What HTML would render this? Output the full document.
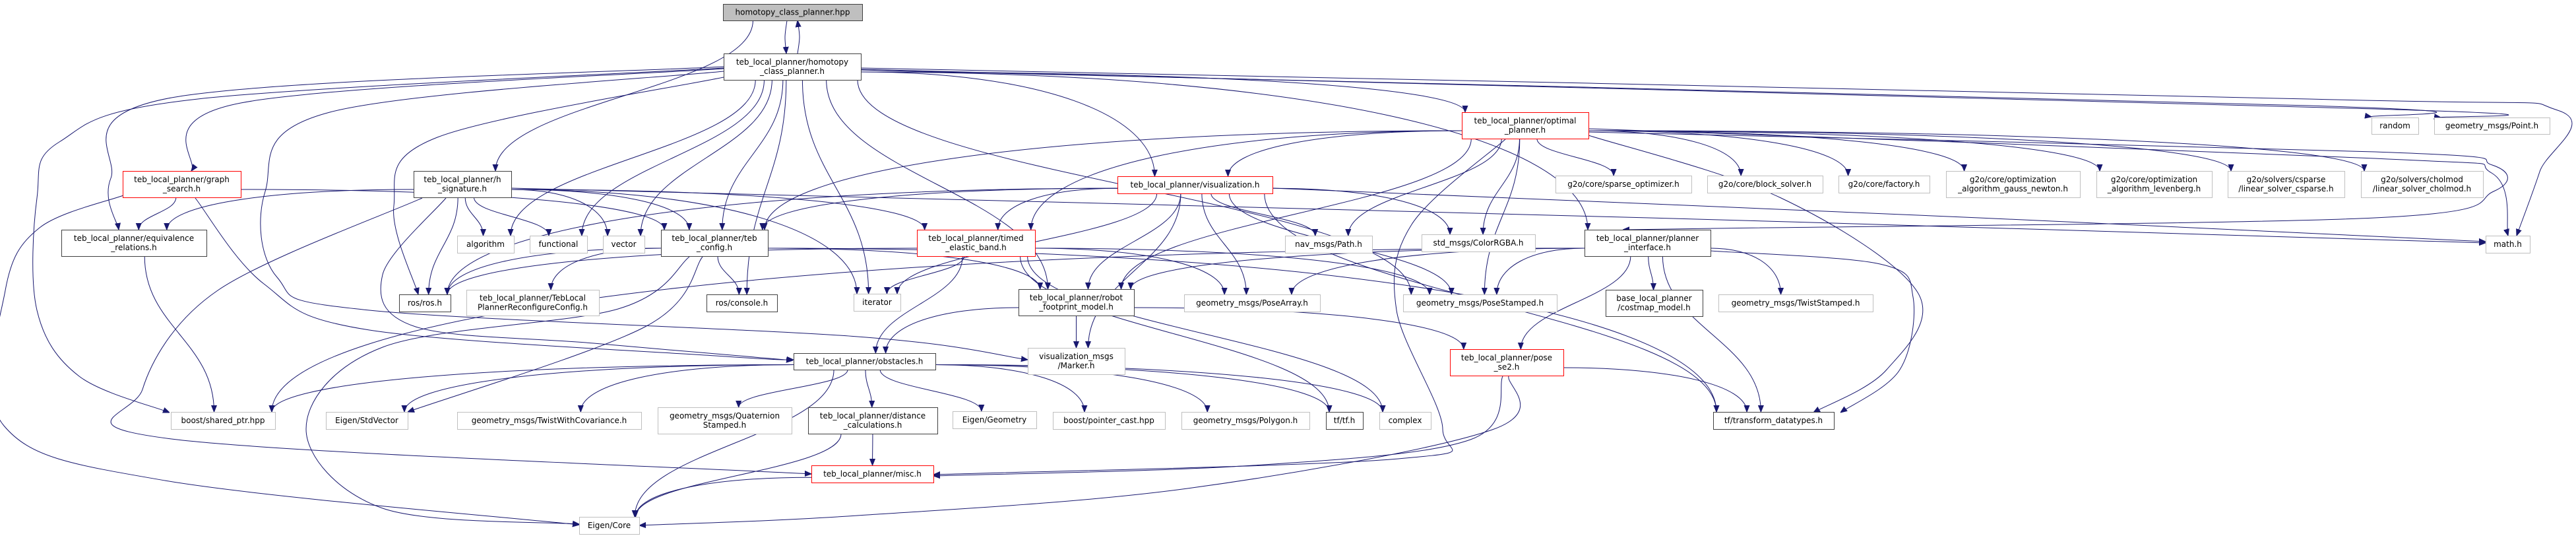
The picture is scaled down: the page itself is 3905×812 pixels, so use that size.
<!DOCTYPE html>
<html><head><meta charset="utf-8">
<style>
html,body{margin:0;padding:0;background:#fff;}
svg{display:block;}
text{font-family:"DejaVu Sans","Liberation Sans",sans-serif;font-size:12px;fill:#000;}
</style></head>
<body>
<svg id="g" width="3905" height="812" viewBox="0 0 3905 812" xmlns="http://www.w3.org/2000/svg">
<defs>
<marker id="ah" viewBox="0 0 10 10" refX="10" refY="5" markerWidth="10" markerHeight="10" markerUnits="userSpaceOnUse" orient="auto">
<path d="M0,1 L10,5 L0,9 z" fill="#191970" stroke="#191970"/>
</marker>
</defs>
<g id="edges" fill="none" stroke="#191970" stroke-width="1"></g>
<g id="nodes"></g>
</svg>
<script>
var N={
A:[1096,6,1307,31,'g',['homotopy_class_planner.hpp']],
B:[1097,81,1305,121,'k',['teb_local_planner/homotopy','_class_planner.h']],
GS:[186,259,365,299,'r',['teb_local_planner/graph','_search.h']],
HS:[627,259,775,299,'k',['teb_local_planner/h','_signature.h']],
ER:[93,348,313,388,'k',['teb_local_planner/equivalence','_relations.h']],
ALG:[693,357,779,383,'w',['algorithm']],
FUN:[803,357,890,383,'w',['functional']],
VEC:[914,357,977,383,'w',['vector']],
TC:[1002,348,1164,388,'k',['teb_local_planner/teb','_config.h']],
ROS:[605,446,683,472,'k',['ros/ros.h']],
TLRC:[707,439,908,478,'w',['teb_local_planner/TebLocal','PlannerReconfigureConfig.h']],
CON:[1071,446,1178,472,'k',['ros/console.h']],
OBS:[1203,535,1418,560,'k',['teb_local_planner/obstacles.h']],
BSP:[259,624,417,650,'w',['boost/shared_ptr.hpp']],
ESV:[494,624,618,650,'w',['Eigen/StdVector']],
TWC:[693,624,972,650,'w',['geometry_msgs/TwistWithCovariance.h']],
QS:[997,617,1200,657,'w',['geometry_msgs/Quaternion','Stamped.h']],
DC:[1225,617,1421,657,'k',['teb_local_planner/distance','_calculations.h']],
MISC:[1230,705,1415,731,'r',['teb_local_planner/misc.h']],
EC:[878,783,969,809,'w',['Eigen/Core']],
OP:[2216,170,2408,210,'r',['teb_local_planner/optimal','_planner.h']],
VIS:[1694,267,1929,293,'r',['teb_local_planner/visualization.h']],
SO:[2358,266,2564,292,'w',['g2o/core/sparse_optimizer.h']],
TEB:[1390,348,1569,388,'r',['teb_local_planner/timed','_elastic_band.h']],
NAV:[1948,357,2080,383,'w',['nav_msgs/Path.h']],
CRGBA:[2155,355,2327,381,'w',['std_msgs/ColorRGBA.h']],
PI:[2402,348,2593,388,'k',['teb_local_planner/planner','_interface.h']],
ITR:[1294,445,1365,471,'w',['iterator']],
RFM:[1544,438,1719,478,'k',['teb_local_planner/robot','_footprint_model.h']],
PA:[1795,446,2001,472,'w',['geometry_msgs/PoseArray.h']],
PS:[2127,446,2360,472,'w',['geometry_msgs/PoseStamped.h']],
CM:[2434,439,2581,479,'k',['base_local_planner','/costmap_model.h']],
VM:[1558,527,1705,567,'w',['visualization_msgs','/Marker.h']],
SE2:[2198,529,2370,569,'r',['teb_local_planner/pose','_se2.h']],
EG:[1444,623,1571,649,'w',['Eigen/Geometry']],
BPC:[1596,624,1766,650,'w',['boost/pointer_cast.hpp']],
POLY:[1791,624,1985,650,'w',['geometry_msgs/Polygon.h']],
TF:[2010,624,2066,650,'k',['tf/tf.h']],
CPX:[2091,624,2169,650,'w',['complex']],
TDT:[2597,624,2780,650,'k',['tf/transform_datatypes.h']],
BS:[2588,266,2763,292,'w',['g2o/core/block_solver.h']],
FAC:[2787,266,2925,292,'w',['g2o/core/factory.h']],
GN:[2950,259,3153,299,'w',['g2o/core/optimization','_algorithm_gauss_newton.h']],
LM:[3178,259,3353,299,'w',['g2o/core/optimization','_algorithm_levenberg.h']],
CS:[3377,259,3554,299,'w',['g2o/solvers/csparse','/linear_solver_csparse.h']],
CH:[3579,259,3764,299,'w',['g2o/solvers/cholmod','/linear_solver_cholmod.h']],
RND:[3595,178,3666,203,'w',['random']],
PT:[3690,178,3865,203,'w',['geometry_msgs/Point.h']],
MATH:[3768,357,3835,383,'w',['math.h']],
TW:[2605,446,2839,472,'w',['geometry_msgs/TwistStamped.h']]
};
var E=[
['A','HS'],
['B','ALG'],['B','FUN'],['B','VEC'],['B','TC'],['B','CON'],['B','ITR'],['B','RFM'],['B','VIS'],['B','OP'],['B','PI'],['B','PS'],
['GS','ER'],['GS','TC'],['ER','BSP'],
['HS','ER'],['HS','ALG'],['HS','FUN'],['HS','VEC'],['HS','TC'],['HS','ROS'],['HS','ITR'],['HS','TEB'],
['TC','ROS'],['TC','TLRC'],['TC','CON'],['TC','RFM'],['TC','TDT'],
['OBS','BSP'],['OBS','ESV'],['OBS','TWC'],['OBS','QS'],['OBS','DC'],['OBS','EC'],['OBS','EG'],['OBS','BPC'],['OBS','POLY'],['OBS','TF'],['OBS','CPX'],
['DC','MISC'],['DC','EC'],['MISC','EC'],
['SE2','TDT'],
['OP','VIS'],['OP','TEB'],['OP','RFM'],['OP','NAV'],['OP','PS'],['OP','SO'],['OP','BS'],['OP','FAC'],['OP','GN'],['OP','LM'],['OP','CS'],['OP','CH'],['OP','TC'],['OP','CRGBA'],
['VIS','TEB'],['VIS','TC'],['VIS','ITR'],['VIS','RFM'],['VIS','NAV'],['VIS','CRGBA'],['VIS','PA'],['VIS','PS'],['VIS','VM'],['VIS','TDT'],['VIS','ROS'],
['TEB','ITR'],['TEB','OBS'],['TEB','PA'],['TEB','PS'],['TEB','TF'],['TEB','CPX'],['TEB','ROS'],
['RFM','OBS'],['RFM','VM'],['RFM','SE2'],
['PI','RFM'],['PI','PA'],['PI','PS'],['PI','CM'],['PI','BSP'],['PI','TDT'],['PI','SE2'],['PI','TW']
];
var W=[
[[1193,31],[1190,56],[1192,81]],
[[1209,81],[1212,56],[1209,31]],
[[1097,103],[300,150],[90,215],[56,300],[56,470],[120,570],[257,625]],
[[187,296],[60,345],[8,440],[6,645],[250,728],[878,795]],
[[1097,101],[260,148],[168,270],[180,348]],
[[1097,104],[365,156],[290,259]],
[[1097,108],[500,170],[402,290],[420,420],[560,470],[1300,510],[1558,545]],
[[676,300],[580,416],[630,495],[900,520],[1202,546]],
[[640,300],[330,440],[216,590],[260,665],[1230,718]],
[[1097,117],[663,208],[597,312],[634,446]],
[[1045,389],[937,468],[580,526],[464,650],[580,770],[878,794]],
[[1065,389],[978,495],[618,624]],
[[296,300],[400,430],[560,500],[1100,540],[1203,545]],
[[1305,103],[3500,150],[3877,167],[3850,260],[3815,357]],
[[1305,106],[3500,160],[3595,177]],
[[1305,105],[3600,165],[3700,178]],
[[2408,195],[3600,240],[3777,262],[3802,357]],
[[2408,200],[3600,230],[3778,250],[3780,290],[3600,330],[2600,346],[2460,348]],
[[775,285],[2500,330],[3768,368]],
[[2408,205],[2700,300],[2907,443],[2860,560],[2749,625]],
[[2593,380],[2850,400],[2900,450],[2880,560],[2790,625]],
[[2282,211],[2140,340],[2117,470],[2187,650],[2120,695],[1415,719]],
[[2278,570],[2229,666],[1900,705],[1415,721]],
[[2287,570],[2262,651],[1800,740],[1300,781],[969,796]],
[[1929,285],[3000,330],[3768,366]]
];
var ns='http://www.w3.org/2000/svg';
var eg=document.getElementById('edges'),ng=document.getElementById('nodes');
function mk(t,a,p){var e=document.createElementNS(ns,t);for(var k in a)e.setAttribute(k,a[k]);p.appendChild(e);return e;}
function cr(P){
 var d='M'+P[0][0]+','+P[0][1];
 for(var i=0;i<P.length-1;i++){
  var p0=P[i-1]||P[i],p1=P[i],p2=P[i+1],p3=P[i+2]||p2;
  var c1=[p1[0]+(p2[0]-p0[0])/6,p1[1]+(p2[1]-p0[1])/6];
  var c2=[p2[0]-(p3[0]-p1[0])/6,p2[1]-(p3[1]-p1[1])/6];
  d+=' C'+c1[0]+','+c1[1]+' '+c2[0]+','+c2[1]+' '+p2[0]+','+p2[1];
 }
 return d;
}
W.forEach(function(P){mk('path',{d:cr(P),'marker-end':'url(#ah)'},eg);});
E.forEach(function(e){
 var s=N[e[0]],t=N[e[1]];if(!s||!t)return;
 var scx=(s[0]+s[2])/2,tcx=(t[0]+t[2])/2;
 var sx,sy,tx,ty,d;
 if(t[1]>s[3]+5){
  sx=Math.max(s[0]+5,Math.min(s[2]-5,scx+(tcx-scx)*0.12));sy=s[3];
  tx=Math.max(t[0]+5,Math.min(t[2]-5,tcx+(scx-tcx)*0.1));ty=t[1];
  var dy=ty-sy;
  if(Math.abs(tx-sx)>dy*3){
   sx=tx>sx?s[2]:s[0];sy=(s[1]+s[3])/2+(s[3]-s[1])*0.2;
   d='M'+sx+','+sy+' C'+(sx+(tx-sx)*0.6)+','+sy+' '+tx+','+(ty-Math.max(30,(ty-sy)*0.6))+' '+tx+','+ty;
  } else {
   d='M'+sx+','+sy+' C'+sx+','+(sy+dy*0.45)+' '+tx+','+(ty-dy*0.45)+' '+tx+','+ty;
  }
 } else if(t[3]<s[1]-5){
  sx=scx;sy=s[1];tx=tcx;ty=t[3];
  d='M'+sx+','+sy+' C'+sx+','+(sy-20)+' '+tx+','+(ty+20)+' '+tx+','+ty;
 } else {
  var right=tcx>scx;
  sx=right?s[2]:s[0];sy=(s[1]+s[3])/2;tx=right?t[0]:t[2];ty=(t[1]+t[3])/2;
  d='M'+sx+','+sy+' C'+(sx+(tx-sx)*0.5)+','+sy+' '+(sx+(tx-sx)*0.5)+','+ty+' '+tx+','+ty;
 }
 mk('path',{d:d,'marker-end':'url(#ah)'},eg);
});
for(var k in N){
 var n=N[k];var w=n[2]-n[0],h=n[3]-n[1];
 var st={g:['#bfbfbf','#404040'],k:['#fff','#404040'],r:['#fff','#ff0000'],w:['#fff','#bfbfbf']}[n[4]];
 mk('rect',{x:n[0]+0.5,y:n[1]+0.5,width:w,height:h,fill:st[0],stroke:st[1],'stroke-width':1},ng);
 var cx=(n[0]+n[2])/2,cy=(n[1]+n[3])/2;
 var L=n[5];
 for(var i=0;i<L.length;i++){
  var y=cy+4+(i-(L.length-1)/2)*14;
  var t=mk('text',{x:cx,y:y,'text-anchor':'middle'},ng);t.textContent=L[i];
 }
}
</script>
</body></html>
